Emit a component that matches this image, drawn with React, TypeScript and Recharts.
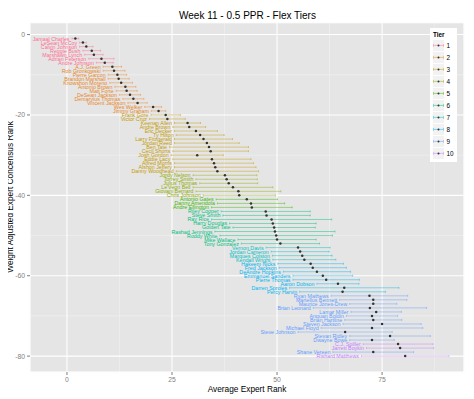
import React from 'react';
import { ScatterChart, Scatter, XAxis, YAxis, CartesianGrid, ErrorBar } from 'recharts';

const playerNames = ['Jamaal Charles','LeSean McCoy','Calvin Johnson','Reggie Bush','Marshawn Lynch','Adrian Peterson','Andre Johnson','A.J. Green','Rob Gronkowski','Pierre Garcon','Brandon Marshall','Knowshon Moreno','Antonio Brown','Matt Forte','DeSean Jackson','Demaryius Thomas','Vincent Jackson','Wes Welker','Jimmy Graham','Frank Gore','Victor Cruz','Keenan Allen','Andre Brown','Eric Decker','Ty Hilton','Larry Fitzgerald','Jordan Reed','Ben Tate','Cecil Shorts','Josh Gordon','Eddie Lacy','Alfred Morris','Alshon Jeffery','Danny Woodhead','Jordy Nelson','Torrey Smith','Julius Thomas',"Le'Veon Bell",'Giovani Bernard','Chris Johnson','Antonio Gates','Danny Amendola','Andre Ellington','Riley Cooper','Steve Smith','Ray Rice','Harry Douglas','Golden Tate','Rashad Jennings','Roddy White','Mike Wallace','Tony Gonzalez','Vernon Davis','Jordan Cameron','Marques Colston','Kendall Wright','Hakeem Nicks','Fred Jackson','DeAndre Hopkins','Emmanuel Sanders','Pierre Thomas','Aaron Dobson','Darren Sproles','Percy Harvin','Ryan Mathews','Martellus Bennett','Maurice Jones-Drew','Brian Leonard','Lamar Miller','Anquan Boldin','Brian Hartline','Steven Jackson','Michael Floyd','Steve Johnson','Stevan Ridley','Dwayne Bowe','C.J. Spiller','Jarrett Boykin','Shane Vereen','Rishard Matthews'];

const playerTiers = [1,1,1,1,1,1,1, 2,2,2,2,2,2,2,2,2,2,2,2, 3,3,3,3,3,3,3,3,3,3,3,3,3,3,3, 4,4,4,4,4,4, 5,5,5, 6,6,6,6,6,6,6,6,6, 7,7,7,7, 8,8,8,8,8,8,8,8, 9,9,9,9,9,9,9,9,9,9,9,9, 10,10,9,10];

const avgRank = [2.0,3.8,4.6,5.9,6.4,8.2,9.0, 10.8,11.2,12.0,12.3,12.9,13.9,14.2,15.0,15.8,16.8,20.5,21.8, 23.5,23.9,28.7,29.1,30.7,31.7,32.5,33.3,33.8,34.2,31.0,34.5,35.0,35.3,35.8, 37.6,38.0,38.5,39.5,40.8,41.0, 42.8,43.8,44.0, 47.3,47.5,48.7,49.0,49.3,49.5,49.8,50.0,50.8, 55.0,55.5,56.0,56.5, 58.0,58.5,59.5,60.9,61.7,64.5,66.0,65.6, 72.0,72.9,72.9,72.1,73.6,72.6,72.9,75.0,72.6,66.2,76.9,72.6, 78.8,79.3,72.9,80.5];

const stdDev = [1.6,1.6,3.2,4.2,4.4,6.0,4.0, 4.4,5.2,4.4,5.0,5.4,5.0,5.0,5.0,5.0,4.6,4.0,3.4, 7.0,8.5,6.2,7.8,10.2,11.4,13.8,15.4,18.8,18.0,12.4,18.6,18.8,19.4,19.6, 15.2,14.6,13.8,19.0,20.2,17.2, 14.6,16.0,19.2, 21.2,20.8,28.6,20.6,19.6,28.6,26.8,18.6,18.6, 15.2,13.8,14.2,15.0, 15.6,16.0,16.0,14.2,15.8,10.0,26.0,20.4, 18.2,16.0,11.2,27.0,12.0,12.2,13.6,18.6,24.2,22.4,19.2,10.6, 16.6,16.0,19.2,20.8];

const tierList = [1,2,3,4,5,6,7,8,9,10];
const tierColors = ['#FF6C91','#E88526','#C49A00','#8FAA00','#39B600','#00BF7D','#00BFC4','#00B4F0','#619CFF','#C77CFF'];

const xTicks = [0, 25, 50, 75];
const xMinorTicks = [12.5, 37.5, 62.5, 87.5];
const yTicks = [-80, -60, -40, -20, 0];
const yMinorTicks = [-70, -50, -30, -10];
const xDomain = [-8.8, 94.5];
const yDomain = [-83.95, 2.95];

const FONT = '"Liberation Sans", Arial, Helvetica, sans-serif';

function alpha(hex: string, a: number) {
  const n = parseInt(hex.slice(1), 16);
  return `rgba(${(n >> 16) & 255},${(n >> 8) & 255},${n & 255},${a})`;
}

const rows = playerNames.map((name, i) => ({
  name,
  tier: playerTiers[i],
  x: avgRank[i],
  y: -(i + 1),
  err: stdDev[i] / 2,
}));

const labelRows = rows.map((r) => ({ ...r, x: r.x - r.err }));

const W = 466;
const H = 391;

const Empty = () => <g />;

const Dot = (p: any) => <circle cx={p.cx} cy={p.cy} r={1.25} fill="#333333" />;

const NameLabel = (p: any) => (
  <text
    x={p.cx - 2.5}
    y={p.cy}
    textAnchor="end"
    dominantBaseline="central"
    fontSize={5.3}
    fontFamily={FONT}
    fill={tierColors[p.payload.tier - 1]}
  >
    {p.payload.name}
  </text>
);

function LegendBox() {
  return (
    <div style={{ position: 'absolute', left: 422, top: 20.3, width: 27, height: 134, background: '#FFFFFF' }}>
      <svg width={27} height={134} style={{ display: 'block' }}>
        <text x={3} y={6} dominantBaseline="central" fontSize={6.4} fontWeight="bold" fontFamily={FONT} fill="#000">
          Tier
        </text>
        {tierList.map((t, i) => {
          const cy = 17.4 + 12 * i;
          return (
            <g key={t}>
              <rect x={2.5} y={cy - 6} width={12} height={12} fill="#F2F2F2" stroke="#FFFFFF" strokeWidth={0.8} />
              <line x1={3.5} x2={13.5} y1={cy} y2={cy} stroke={alpha(tierColors[i], 0.5)} strokeWidth={1} />
              <line x1={3.5} x2={3.5} y1={cy - 1.5} y2={cy + 1.5} stroke={alpha(tierColors[i], 0.5)} strokeWidth={0.8} />
              <line x1={13.5} x2={13.5} y1={cy - 1.5} y2={cy + 1.5} stroke={alpha(tierColors[i], 0.5)} strokeWidth={0.8} />
              <circle cx={8.5} cy={cy} r={1} fill="#333333" />
              <text x={16.5} y={cy} dominantBaseline="central" fontSize={6.4} fontFamily={FONT} fill="#000">
                {t}
              </text>
            </g>
          );
        })}
      </svg>
    </div>
  );
}

export default function App() {
  return (
    <div style={{ position: 'relative', width: W, height: H, fontFamily: FONT }}>
      <ScatterChart width={W} height={H} margin={{ top: 14.7, right: 10, bottom: 0, left: 0 }}>
        <XAxis xAxisId="minor" type="number" dataKey="x" domain={xDomain} ticks={xMinorTicks} hide allowDataOverflow />
        <YAxis yAxisId="minor" type="number" dataKey="y" domain={yDomain} ticks={yMinorTicks} hide allowDataOverflow />
        <CartesianGrid xAxisId="minor" yAxisId="minor" fill="#E5E5E5" stroke="#F2F2F2" strokeWidth={0.6} />
        <CartesianGrid stroke="#FFFFFF" strokeWidth={1.1} />
        <XAxis
          type="number"
          dataKey="x"
          domain={xDomain}
          ticks={xTicks}
          allowDataOverflow
          height={27}
          axisLine={false}
          tickSize={3}
          tickLine={{ stroke: '#7F7F7F' }}
          tick={{ fontSize: 6.8, fill: '#7F7F7F', fontFamily: FONT }}
        />
        <YAxis
          type="number"
          dataKey="y"
          domain={yDomain}
          ticks={yTicks}
          allowDataOverflow
          width={22}
          axisLine={false}
          tickSize={3}
          tickLine={{ stroke: '#7F7F7F' }}
          tick={{ fontSize: 6.8, fill: '#7F7F7F', fontFamily: FONT }}
        />
        {tierList.map((t, i) => (
          <Scatter
            key={`tier-${t}`}
            name={`${t}`}
            data={rows.filter((r) => r.tier === t)}
            shape={Empty}
            isAnimationActive={false}
          >
            <ErrorBar dataKey="err" direction="x" width={1} stroke={alpha(tierColors[i], 0.45)} strokeWidth={1} isAnimationActive={false} />
          </Scatter>
        ))}
        <Scatter name="points" data={rows} shape={Dot} isAnimationActive={false} />
        <Scatter name="labels" data={labelRows} shape={NameLabel} isAnimationActive={false} />
      </ScatterChart>
      <div style={{ position: 'absolute', left: 0, width: W - 10 + 22, top: 2, textAlign: 'center', fontSize: 10, lineHeight: '12px', color: '#000', pointerEvents: 'none' }}>
        <span style={{ position: 'absolute', left: 239.5, transform: 'translateX(-50%)', whiteSpace: 'nowrap' }}>Week 11 - 0.5 PPR - Flex Tiers</span>
      </div>
      <div style={{ position: 'absolute', left: 239, top: 376, transform: 'translateX(-50%)', whiteSpace: 'nowrap', fontSize: 8.3, lineHeight: '10px', color: '#000' }}>
        Average Expert Rank
      </div>
      <div style={{ position: 'absolute', left: 2, top: 189, width: 0, height: 0 }}>
        <div style={{ position: 'absolute', left: 0, top: 0, transform: 'translate(-50%, -50%) rotate(-90deg)', whiteSpace: 'nowrap', fontSize: 8.3, lineHeight: '10px', color: '#000' }}>
          Weight Adjusted Expert Concensus Rank
        </div>
      </div>
      <LegendBox />
    </div>
  );
}
